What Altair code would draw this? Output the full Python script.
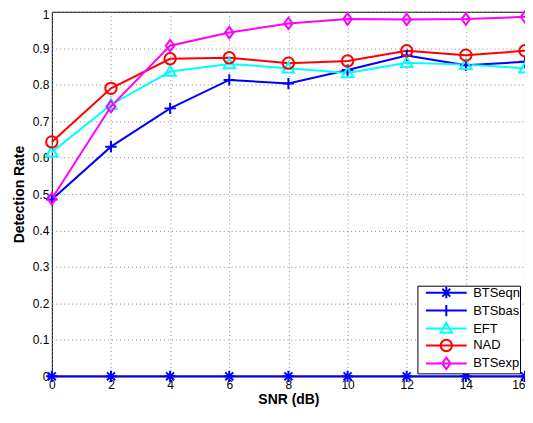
import altair as alt
import pandas as pd

snr = [0, 2, 4, 6, 8, 10, 12, 14, 16]
series_names = ["BTSeqn", "BTSbas", "EFT", "NAD", "BTSexp"]
btseqn = [0, 0, 0, 0, 0, 0, 0, 0, 0]
btsbas = [0.485, 0.630, 0.735, 0.813, 0.803, 0.840, 0.880, 0.853, 0.863]
eft = [0.615, 0.745, 0.836, 0.857, 0.845, 0.832, 0.860, 0.855, 0.845]
nad = [0.643, 0.790, 0.871, 0.874, 0.859, 0.865, 0.893, 0.881, 0.893]
btsexp = [0.487, 0.740, 0.907, 0.943, 0.968, 0.980, 0.979, 0.980, 0.986]
colors = ["#0000ff", "#0000ff", "#00ffff", "#ff0000", "#ff00ff"]
y_ticks = [0, 0.1, 0.2, 0.3, 0.4, 0.5, 0.6, 0.7, 0.8, 0.9, 1]

marker_paths = [
    "M-1,0L1,0M0,-1L0,1M-0.7,-0.7L0.7,0.7M-0.7,0.7L0.7,-0.7",
    "M-1,0L1,0M0,-1L0,1",
    "M0,-1L1,0.75L-1,0.75Z",
    "M1,0A1,1 0 1,1 -1,0A1,1 0 1,1 1,0Z",
    "M0,-1L0.75,0L0,1L-0.75,0Z",
]
legend_line = "M-3.6,0L3.6,0"
legend_paths = [legend_line + p for p in marker_paths]

rows = []
for name, vals in zip(series_names, [btseqn, btsbas, eft, nad, btsexp]):
    for x, v in zip(snr, vals):
        rows.append({"snr": x, "rate": v, "series": name})
df = pd.DataFrame(rows)

font = "Liberation Sans"
W, H = 475, 366

x_enc = alt.X("snr:Q", scale=alt.Scale(domain=[0, 16], nice=False),
              axis=alt.Axis(title="SNR (dB)", values=snr, format="d", labelFlush=False,
                            labelAlign={"expr": "datum.value == 16 ? 'right' : 'center'"}))
y_enc = alt.Y("rate:Q", scale=alt.Scale(domain=[0, 1], nice=False),
              axis=alt.Axis(title="Detection Rate", values=y_ticks, format="~g",
                            labelOffset={"expr": "datum.value == 1 ? 3 : 0"}))

color_scale = alt.Scale(domain=series_names, range=colors)

base = alt.Chart(df)

lines = base.mark_line(strokeWidth=2).encode(
    x=x_enc, y=y_enc,
    color=alt.Color("series:N", scale=color_scale, legend=None),
    detail="series:N",
)

points = base.mark_point(filled=False, strokeWidth=2, size=130, opacity=1).encode(
    x=x_enc, y=y_enc,
    color=alt.Color("series:N", scale=color_scale, legend=None),
    shape=alt.Shape("series:N", scale=alt.Scale(domain=series_names, range=marker_paths), legend=None),
)

leg = dict(
    title=None, orient="none", legendX=367, legendY=H - 6 - 85,
    strokeColor="black", fillColor="white", padding=0,
    labelFont=font, labelFontSize=13, labelColor="black",
    symbolSize=130, symbolStrokeWidth=2, symbolOffset=22, labelOffset=20,
    rowPadding=-2,
)

legend_layer = base.mark_point(filled=False, strokeWidth=2, size=130, opacity=1).encode(
    x=x_enc, y=y_enc,
    color=alt.Color("series:N", scale=color_scale, legend=alt.Legend(**leg)),
    shape=alt.Shape("series:N", scale=alt.Scale(domain=series_names, range=legend_paths),
                    legend=alt.Legend(**leg)),
).transform_filter("false")

chart = alt.layer(lines, points, legend_layer).resolve_scale(
    color="independent", shape="independent"
).properties(
    width=W, height=H,
    autosize=alt.AutoSizeParams(type="none"),
    padding={"left": 44, "top": 3, "right": 0, "bottom": 30},
    background="white",
).configure_view(
    stroke="black", strokeWidth=1
).configure_axis(
    labelFont=font, labelFontSize=12, labelColor="black",
    titleFont=font, titleFontSize=14, titleFontWeight="bold", titleColor="black",
    grid=True, gridColor="#888888", gridDash=[1, 3], gridWidth=1,
    domain=False, ticks=False, labelPadding=3,
).configure_axisX(titlePadding=2).configure_axisY(titlePadding=6)

chart.save("out.html", embed_options={"renderer": "svg", "actions": False})
